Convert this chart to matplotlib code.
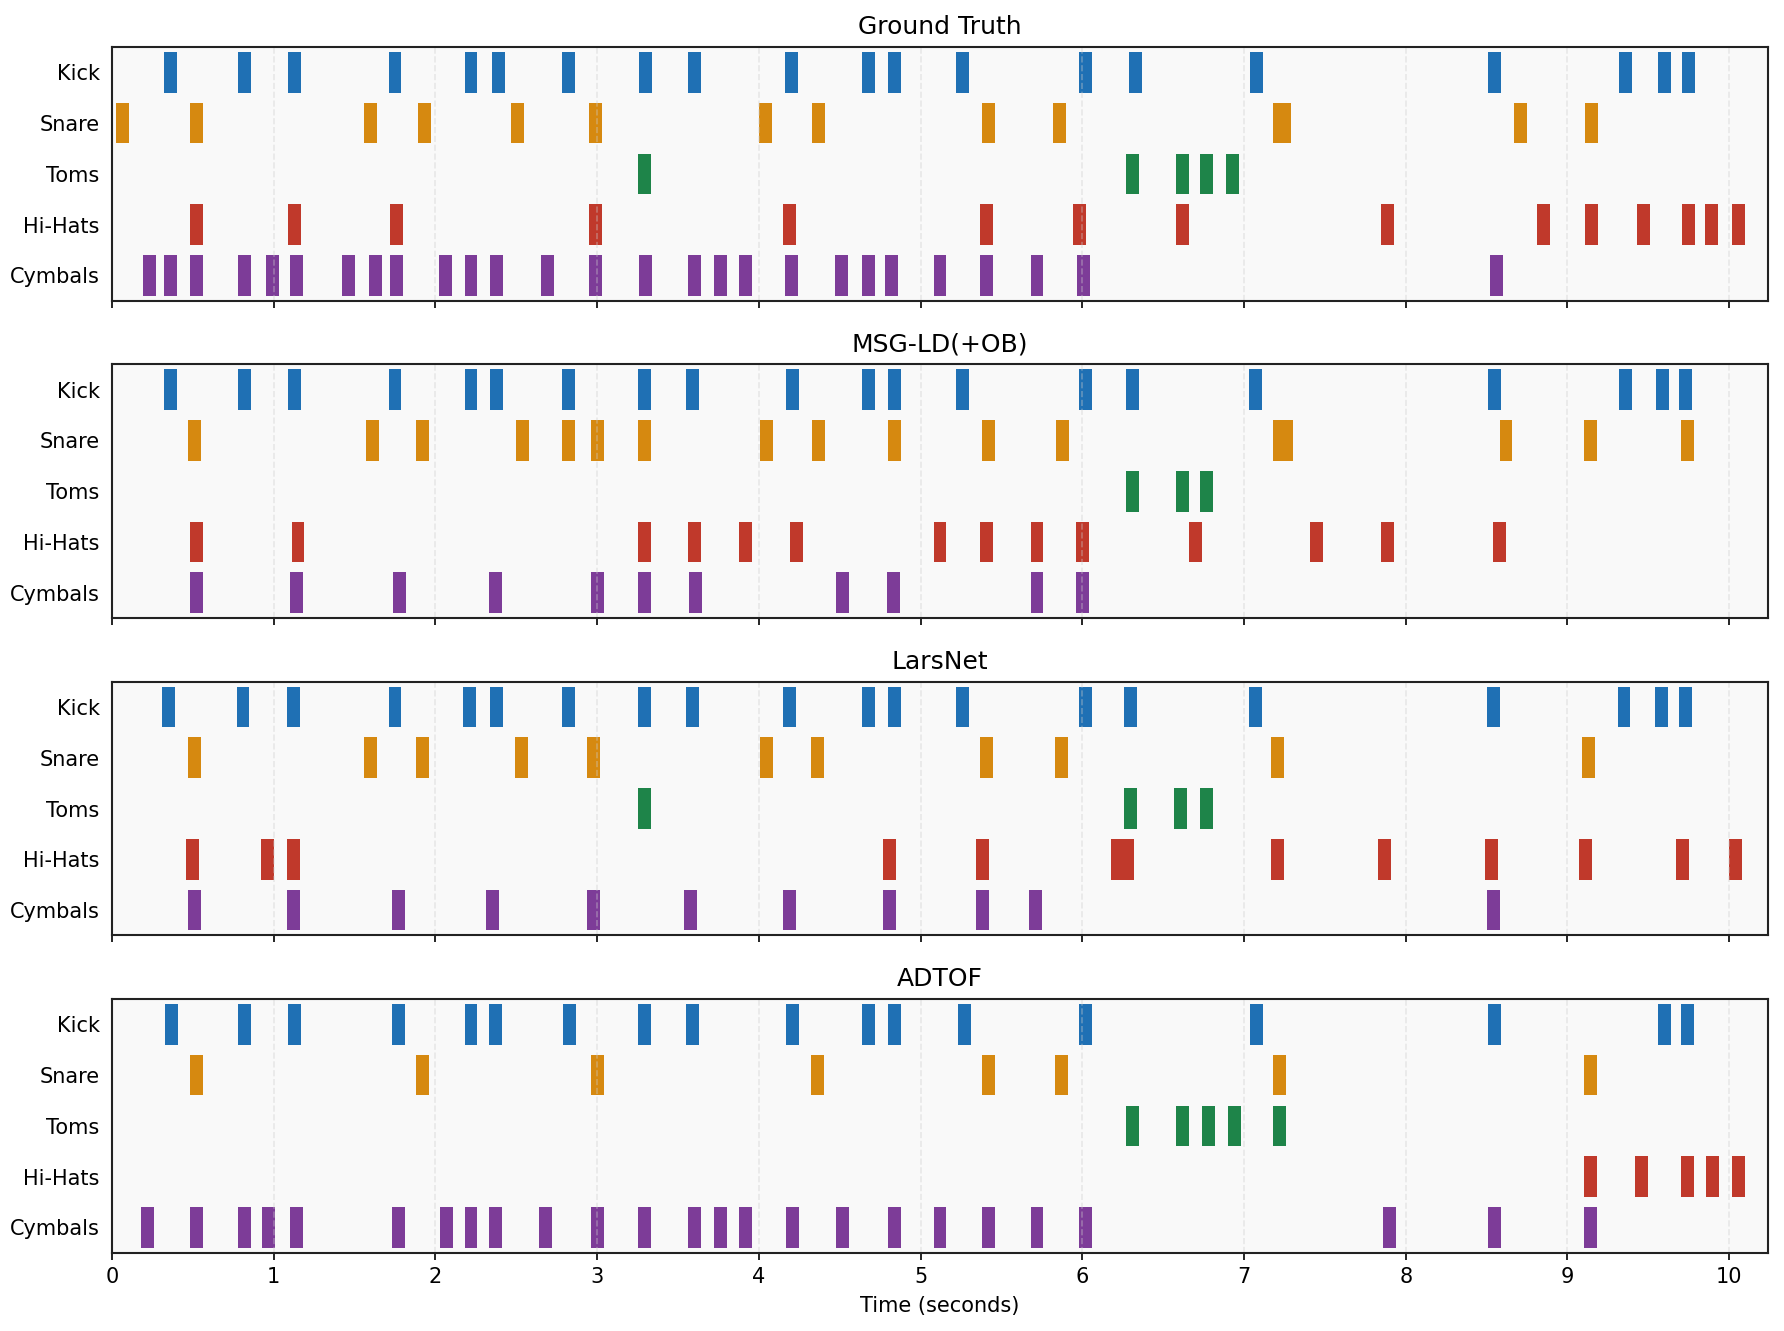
import numpy as np
import matplotlib
matplotlib.use("Agg")
import matplotlib.pyplot as plt

# onset times (seconds)
instruments = ["Kick", "Snare", "Toms", "Hi-Hats", "Cymbals"]
colors = ["#1f70b4", "#d68910", "#1e8449", "#c0392b", "#7d3c98"]
titles = ["Ground Truth", "MSG-LD(+OB)", "LarsNet", "ADTOF"]

gt_kick = [0.36, 0.82, 1.13, 1.75, 2.22, 2.39, 2.82, 3.30, 3.60, 4.20, 4.68, 4.84,
           5.26, 6.02, 6.33, 7.08, 8.55, 9.36, 9.60, 9.75]
gt_snare = [0.065, 0.52, 1.60, 1.93, 2.51, 2.99, 4.04, 4.37, 5.42, 5.86, 7.22, 7.25,
            8.71, 9.15]
gt_toms = [3.29, 6.31, 6.62, 6.77, 6.93]
gt_hihat = [0.52, 1.13, 1.76, 2.99, 4.19, 5.41, 5.98, 6.62, 7.89, 8.85, 9.15, 9.47,
            9.75, 9.89, 10.06]
gt_cymbal = [0.23, 0.36, 0.52, 0.82, 0.99, 1.14, 1.46, 1.63, 1.76, 2.06, 2.22, 2.38,
             2.69, 2.99, 3.30, 3.60, 3.76, 3.92, 4.20, 4.51, 4.68, 4.82, 5.12, 5.41,
             5.72, 6.01, 8.56]

msg_kick = [0.36, 0.82, 1.13, 1.75, 2.22, 2.38, 2.82, 3.29, 3.59, 4.21, 4.68, 4.84,
            5.26, 6.02, 6.31, 7.07, 8.55, 9.36, 9.59, 9.73]
msg_snare = [0.51, 1.61, 1.92, 2.54, 2.82, 3.00, 3.29, 4.05, 4.37, 4.84, 5.42, 5.88,
             7.22, 7.26, 8.62, 9.14, 9.74]
msg_toms = [6.31, 6.62, 6.77]
msg_hihat = [0.52, 1.15, 3.29, 3.60, 3.92, 4.23, 5.12, 5.41, 5.72, 6.00, 6.70, 7.45,
             7.89, 8.58]
msg_cymbal = [0.52, 1.14, 1.78, 2.37, 3.00, 3.29, 3.61, 4.52, 4.83, 5.72, 6.00]

lars_kick = [0.35, 0.81, 1.12, 1.75, 2.21, 2.38, 2.82, 3.29, 3.59, 4.19, 4.68, 4.84,
             5.26, 6.02, 6.30, 7.07, 8.54, 9.35, 9.58, 9.73]
lars_snare = [0.51, 1.60, 1.92, 2.53, 2.98, 4.05, 4.36, 5.41, 5.87, 7.21, 9.13]
lars_toms = [3.29, 6.30, 6.61, 6.77]
lars_hihat = [0.50, 0.96, 1.12, 4.81, 5.38, 6.22, 6.28, 7.21, 7.87, 8.53, 9.11, 9.71,
              10.04]
lars_cymbal = [0.51, 1.12, 1.77, 2.35, 2.98, 3.58, 4.19, 4.81, 5.38, 5.71, 8.54]

adtof_kick = [0.37, 0.82, 1.13, 1.77, 2.22, 2.37, 2.83, 3.29, 3.59, 4.21, 4.68, 4.84,
              5.27, 6.02, 7.08, 8.55, 9.60, 9.74]
adtof_snare = [0.52, 1.92, 3.00, 4.36, 5.42, 5.87, 7.22, 9.14]
adtof_toms = [6.31, 6.62, 6.78, 6.94, 7.22]
adtof_hihat = [9.14, 9.46, 9.74, 9.90, 10.06]
adtof_cymbal = [0.22, 0.52, 0.82, 0.97, 1.14, 1.77, 2.07, 2.22, 2.37, 2.68, 3.00,
                3.29, 3.60, 3.76, 3.92, 4.21, 4.52, 4.84, 5.12, 5.42, 5.72, 6.02,
                7.90, 8.55, 9.14]

panels = [
    [gt_kick, gt_snare, gt_toms, gt_hihat, gt_cymbal],
    [msg_kick, msg_snare, msg_toms, msg_hihat, msg_cymbal],
    [lars_kick, lars_snare, lars_toms, lars_hihat, lars_cymbal],
    [adtof_kick, adtof_snare, adtof_toms, adtof_hihat, adtof_cymbal],
]

onset_w = 0.08
t_max = 10.24

fig, axes = plt.subplots(4, 1, figsize=(1784 / 150, 1331 / 150), dpi=150, sharex=True)
fig.subplots_adjust(left=0.0628, right=0.991, top=0.9647, bottom=0.0588, hspace=0.25)

for ax, title, events in zip(axes, titles, panels):
    ax.set_facecolor("#f9f9f9")
    for i, (name, col, times) in enumerate(zip(instruments, colors, events)):
        y = len(instruments) - 1 - i
        ax.barh(np.full(len(times), y), onset_w, left=np.array(times) - onset_w / 2,
                height=0.8, color=col, linewidth=0)
    ax.set_yticks(range(len(instruments)))
    ax.set_yticklabels(instruments[::-1])
    ax.tick_params(axis="y", length=0, pad=6)
    ax.set_ylim(-0.5, len(instruments) - 0.5)
    ax.set_xlim(0, t_max)
    ax.set_xticks(range(0, 11))
    ax.grid(axis="x", linestyle="--", color="#cccccc", alpha=0.4, linewidth=0.8)
    ax.set_title(title, fontsize=12)
    for s in ax.spines.values():
        s.set_color("#222222")
        s.set_linewidth(1.0)

axes[-1].set_xlabel("Time (seconds)")

fig.savefig("out.png", dpi=150)
